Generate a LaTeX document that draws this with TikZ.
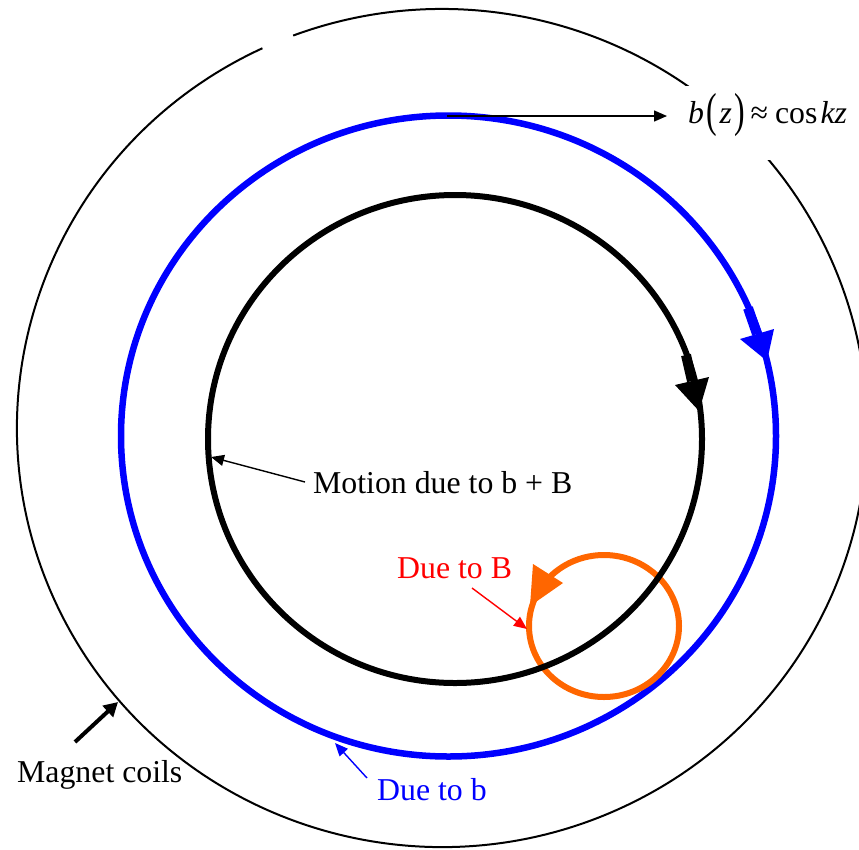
\documentclass[tikz,border=0pt]{standalone}
\usepackage{fontspec}
\setmainfont{Liberation Serif}
\usepackage{graphicx}
\usetikzlibrary{arrows.meta}
\definecolor{pblue}{RGB}{0,0,255}
\definecolor{porange}{RGB}{255,102,0}
\definecolor{pred}{RGB}{255,0,0}
\newcommand{\tallpar}[1]{\raisebox{-3pt}{\scalebox{1}[1.5]{#1}}}
\begin{document}
\begin{tikzpicture}[x=1pt,y=1pt,
  lbl/.style={font=\fontsize{31.8}{32}\selectfont, inner sep=0pt, anchor=base west},
  thinarrow/.style={line width=1.4pt, -{Triangle[length=13pt,width=11pt]}},
  coilarrow/.style={line width=4pt, -{Triangle[length=14pt,width=15pt]}},
  coil/.style={line width=2pt},
  ring/.style={line width=6pt}]
\useasboundingbox (0,0) rectangle (859,-849);
\clip (0,0) rectangle (859,-849);
% magnet coils (outer thin ring), with a small gap at top left
\coordinate (oc) at (442,-428);
\draw[coil] (oc) ++(115:425pt and 419pt)
  arc[start angle=115, end angle=470.5, x radius=425pt, y radius=419pt];
% blue orbit
\draw[pblue, ring, line width=6.5pt] (448.5,-436) ellipse [x radius=327.5pt, y radius=320.5pt];
\draw[pblue, line width=10pt] (748,-308) -- (757,-334);
\fill[pblue] (740,-339) -- (774,-329) -- (767,-361) -- cycle;
% orange gyro orbit
\draw[porange, ring] (604,-626) ellipse [x radius=75pt, y radius=71pt];
\fill[porange] (533,-564) -- (563,-583) -- (530,-606) -- cycle;
% black orbit
\draw[ring] (455,-439) ellipse [x radius=247pt, y radius=244pt];
\draw[line width=10pt] (686,-355) -- (692,-381);
\fill (675,-385) -- (709,-377) -- (699,-411) -- cycle;
% formula label
\node[lbl, fill=white, inner xsep=8pt, text height=37pt, text depth=37pt] (form) at (680,-123)
  {\textit{b}\kern2pt\tallpar{(}\kern3pt\textit{z}\kern2pt\tallpar{)}\kern6pt≈\kern7pt cos\kern3pt\textit{kz}};
\coordinate (btop) at (447,-116);
\draw[thinarrow, shorten >=13pt] (btop) -- (btop -| form.west);
% motion label
\node[lbl] (motion) at (313,-493) {Motion due to b + B};
\coordinate (mstart) at (305,-482);
\coordinate (mtip) at (211,-457);
\draw[thinarrow] (mstart) -- (mtip);
% due to B
\node[lbl, text=pred] (dueB) at (397,-578) {Due to B};
\coordinate (rstart) at (472,-588);
\coordinate (rtip) at (527,-629);
\draw[thinarrow, pred] (rstart) -- (rtip);
% due to b
\node[lbl, text=pblue] (dueb) at (377,-800) {Due to b};
\coordinate (bstart) at (367,-778);
\coordinate (btip) at (335,-743);
\draw[thinarrow, pblue] (bstart) -- (btip);
% magnet coils
\node[lbl] (coils) at (17,-782) {Magnet coils};
\coordinate (cstart) at (75,-742);
\coordinate (ctip) at (118,-702);
\draw[coilarrow] (cstart) -- (ctip);
\end{tikzpicture}
\end{document}
